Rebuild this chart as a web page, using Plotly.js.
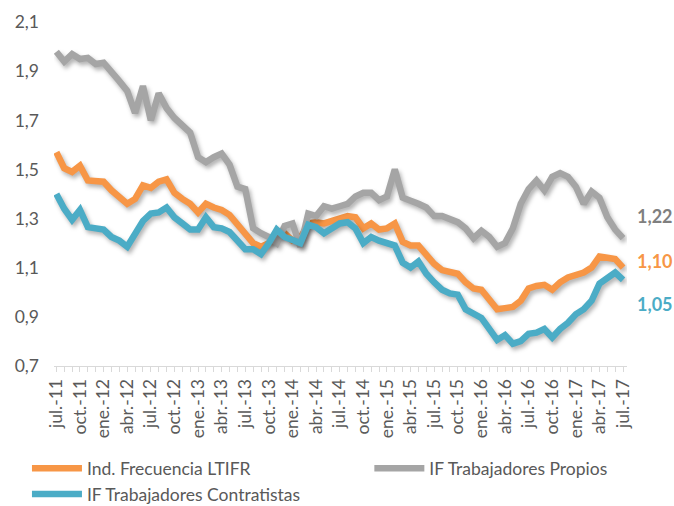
<!DOCTYPE html>
<html>
<head>
<meta charset="utf-8">
<script src="https://cdn.plot.ly/plotly-3.0.1.min.js"></script>
<style>
body{margin:0;background:#fff;}
#chart{width:674px;height:506px;}
#chart .scatterlayer path.js-line{filter:drop-shadow(2px 3px 2px rgba(0,0,0,0.3));}
</style>
</head>
<body>
<div id="chart"></div>
<script>
// month labels jul.-11 .. jul.-17
var monthNames = ["ene.", "feb.", "mar.", "abr.", "may.", "jun.", "jul.", "ago.", "sep.", "oct.", "nov.", "dic."];
var months = [];
for (var k = 6; k <= 6 + 72; k++) {
    months.push(monthNames[k % 12] + "-" + (11 + Math.floor(k / 12)));
}
// only every third month gets a label
var tickText = months.map(function (m, i) { return i % 3 === 0 ? m : ""; });
var yTicks = [0.7, 0.9, 1.1, 1.3, 1.5, 1.7, 1.9, 2.1];

var ltifr = [1.57, 1.505, 1.49, 1.515, 1.455, 1.45, 1.45, 1.415, 1.39, 1.36,
    1.38, 1.435, 1.425, 1.45, 1.46, 1.405, 1.38, 1.36, 1.325, 1.36,
    1.345, 1.335, 1.315, 1.275, 1.235, 1.20, 1.185, 1.20, 1.24, 1.24,
    1.21, 1.22, 1.28, 1.285, 1.28, 1.29, 1.305, 1.31, 1.305, 1.26,
    1.28, 1.255, 1.26, 1.28, 1.205, 1.19, 1.19, 1.15, 1.115, 1.09,
    1.08, 1.075, 1.04, 1.015, 1.01, 0.97, 0.93, 0.935, 0.94, 0.965,
    1.015, 1.025, 1.03, 1.01, 1.04, 1.06, 1.07, 1.08, 1.10, 1.145,
    1.14, 1.135, 1.10];

var propios = [1.98, 1.94, 1.97, 1.95, 1.955, 1.93, 1.935, 1.90, 1.86, 1.82,
    1.73, 1.84, 1.70, 1.81, 1.75, 1.71, 1.68, 1.65, 1.55, 1.53,
    1.55, 1.565, 1.52, 1.43, 1.42, 1.26, 1.24, 1.225, 1.20, 1.27,
    1.28, 1.185, 1.32, 1.31, 1.35, 1.34, 1.35, 1.36, 1.39, 1.405,
    1.405, 1.375, 1.39, 1.50, 1.385, 1.375, 1.36, 1.345, 1.31, 1.31,
    1.295, 1.285, 1.26, 1.22, 1.25, 1.225, 1.185, 1.20, 1.26, 1.36,
    1.42, 1.455, 1.415, 1.47, 1.485, 1.47, 1.43, 1.36, 1.41, 1.385,
    1.305, 1.255, 1.22];

var contratistas = [1.40, 1.34, 1.295, 1.335, 1.265, 1.26, 1.255, 1.225, 1.21, 1.185,
    1.24, 1.29, 1.32, 1.325, 1.345, 1.305, 1.28, 1.255, 1.255, 1.305,
    1.265, 1.26, 1.245, 1.21, 1.175, 1.175, 1.155, 1.20, 1.255, 1.225,
    1.21, 1.20, 1.275, 1.265, 1.24, 1.26, 1.28, 1.285, 1.26, 1.20,
    1.225, 1.21, 1.20, 1.19, 1.12, 1.10, 1.125, 1.075, 1.04, 1.01,
    0.995, 0.99, 0.93, 0.915, 0.895, 0.85, 0.805, 0.825, 0.79, 0.80,
    0.83, 0.835, 0.85, 0.815, 0.85, 0.875, 0.91, 0.93, 0.965, 1.035,
    1.06, 1.08, 1.05];

var orange = "#F79646", gray = "#A5A5A5", blue = "#4BACC6";
var font = "Lato, 'Open Sans', sans-serif";

var traces = [
    {x: months, y: ltifr, name: "Ind. Frecuencia LTIFR", type: "scatter", mode: "lines",
     line: {color: orange, width: 6.5}, legend: "legend", legendgroup: "a", hoverinfo: "skip"},
    {x: months, y: propios, name: "IF Trabajadores Propios", type: "scatter", mode: "lines",
     line: {color: gray, width: 6.5}, legend: "legend2", hoverinfo: "skip"},
    {x: months, y: contratistas, name: "IF Trabajadores Contratistas", type: "scatter", mode: "lines",
     line: {color: blue, width: 6.5}, legend: "legend", legendgroup: "c", hoverinfo: "skip"}
];

function endLabel(vals, color, shift) {
    var v = vals[vals.length - 1];
    return {
        x: months[months.length - 1], y: v, xref: "x", yref: "y",
        text: "<b>" + v.toFixed(2).replace(".", ",") + "</b>",
        showarrow: false, xanchor: "left", xshift: 12, yshift: shift,
        font: {family: font, size: 18, color: color}
    };
}

var legendFont = {family: font, size: 17.5, color: "#595959"};

var layout = {
    width: 674, height: 506,
    margin: {l: 54, r: 47, t: 22, b: 140, autoexpand: false},
    paper_bgcolor: "#fff", plot_bgcolor: "#fff",
    font: {family: font, size: 17, color: "#595959"},
    separators: ", ",
    showlegend: true,
    xaxis: {
        type: "category", range: [-0.3, 72.5], automargin: false,
        tickmode: "array", tickvals: months, ticktext: tickText, tickangle: -90,
        ticks: "outside", ticklen: 5, tickcolor: "#D9D9D9",
        showline: true, linecolor: "#D9D9D9", linewidth: 1,
        showgrid: false, zeroline: false,
        tickfont: {family: font, size: 17.5, color: "#595959"}
    },
    yaxis: {
        range: [0.699, 2.101], tickmode: "array", tickvals: yTicks, tickformat: ".1f",
        showgrid: false, zeroline: false, showline: false, ticks: "", automargin: false,
        ticklabelstandoff: 14,
        tickfont: {family: font, size: 17.5, color: "#595959"}
    },
    legend: {
        x: 0.04, xanchor: "left", xref: "container", y: 0.11, yanchor: "top", yref: "container",
        orientation: "v", tracegroupgap: 0, itemwidth: 50, maxheight: 300,
        bgcolor: "rgba(0,0,0,0)", font: legendFont
    },
    legend2: {
        x: 0.548, xanchor: "left", xref: "container", y: 0.11, yanchor: "top", yref: "container",
        orientation: "v", itemwidth: 50, maxheight: 300,
        bgcolor: "rgba(0,0,0,0)", font: legendFont
    },
    annotations: [
        endLabel(propios, "#7F7F7F", 22),
        endLabel(ltifr, orange, 7),
        endLabel(contratistas, blue, -24)
    ]
};

Plotly.newPlot("chart", traces, layout, {displayModeBar: false, staticPlot: true});
</script>
</body>
</html>
